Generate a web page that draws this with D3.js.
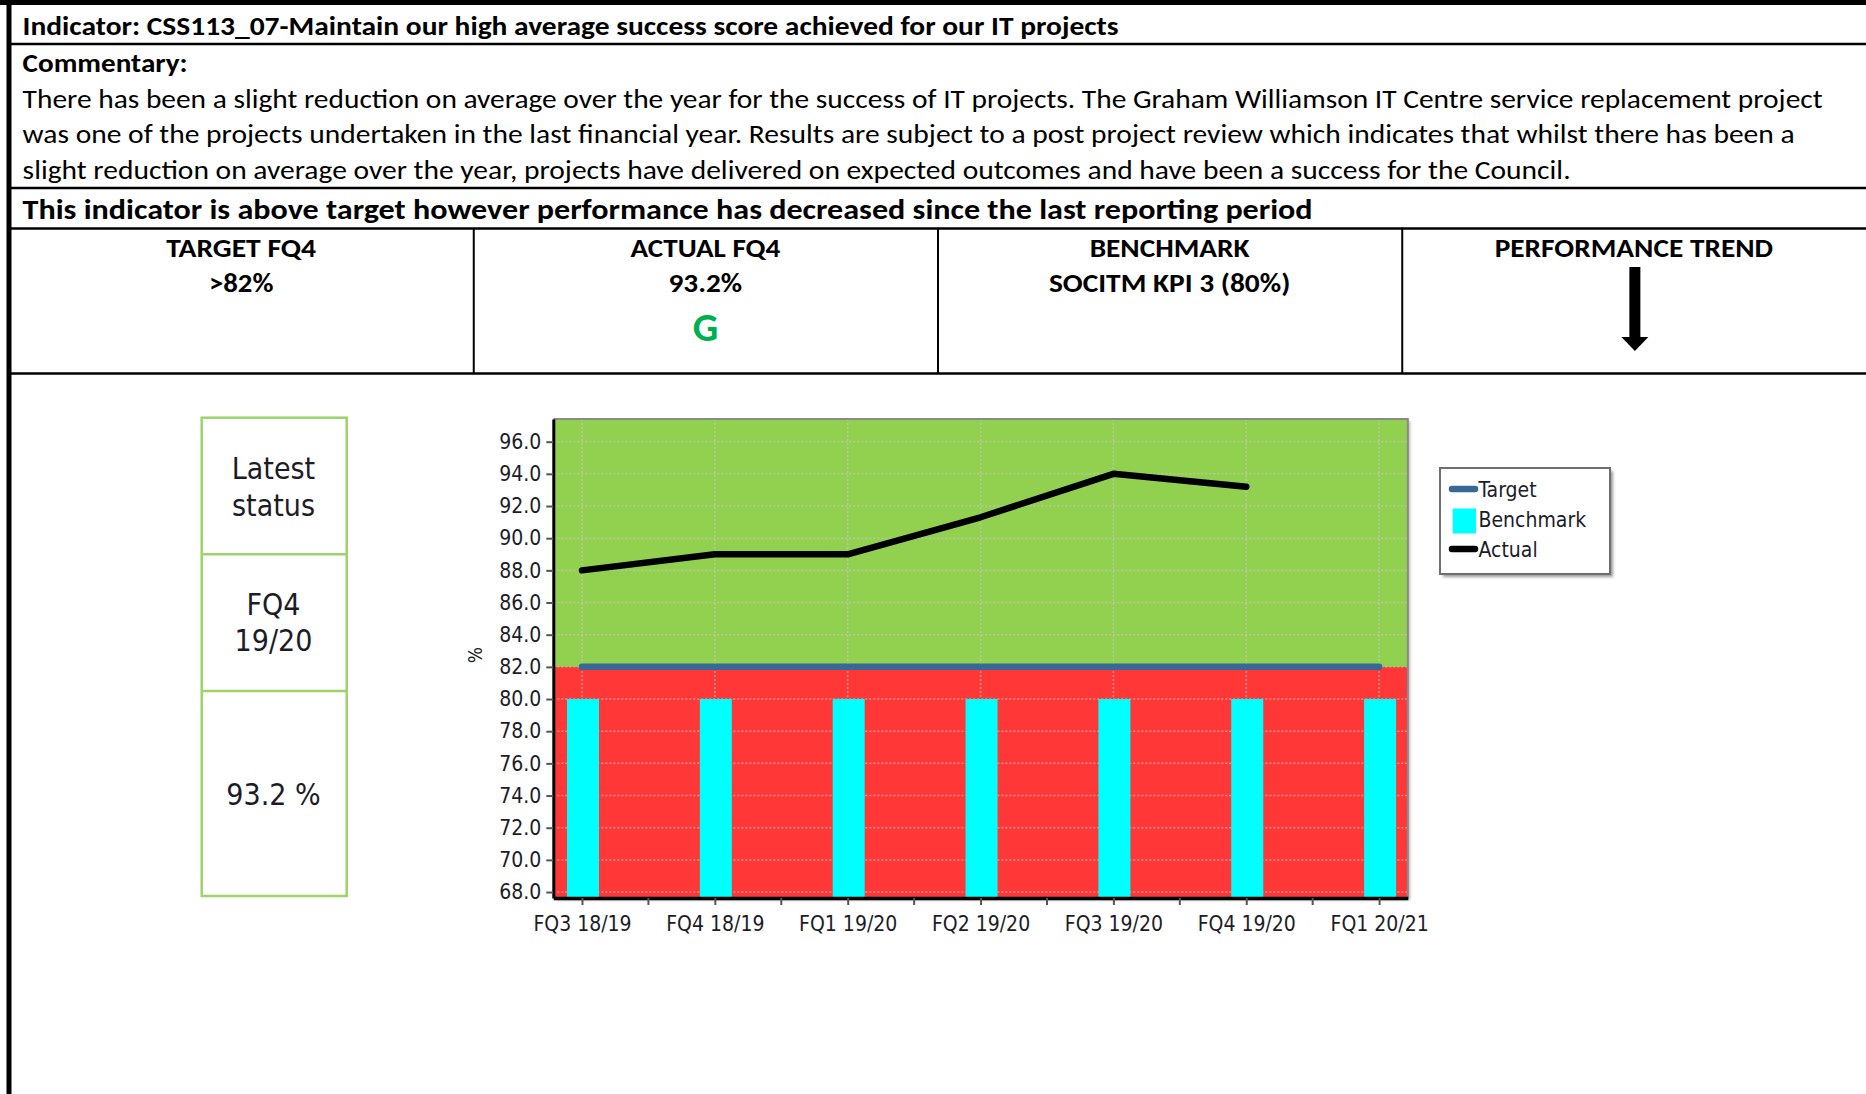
<!DOCTYPE html>
<html lang="en">

<head>
    <meta charset="UTF-8">
    <title>CSS113_07 - IT project success score</title>
    <script src="https://cdnjs.cloudflare.com/ajax/libs/d3/7.8.5/d3.min.js"></script>
    <style>
        body {
            margin: 0;
            background: #fff;
        }

        svg#main {
            display: block;
        }

        .doc text {
            font-family: Carlito, Lato, 'Open Sans', sans-serif;
            fill: #000;
        }

        .chart text {
            font-family: 'DejaVu Sans Condensed', 'DejaVu Sans', sans-serif;
            font-stretch: condensed;
            fill: #1c1c28;
        }

        .grid line {
            stroke: rgba(200, 200, 200, 0.65);
            stroke-width: 1.5px;
            stroke-dasharray: 2, 2;
        }
    </style>
</head>

<body>
    <svg id="main" width="1866" height="1094"></svg>
    <script>
        "use strict";

        const categories = ["FQ3 18/19", "FQ4 18/19", "FQ1 19/20", "FQ2 19/20", "FQ3 19/20", "FQ4 19/20", "FQ1 20/21"];
        const actualValues = [88.0, 89.0, 89.0, 91.3, 94.0, 93.2, null];
        const targetValues = [82, 82, 82, 82, 82, 82, 82];
        const benchmarkValues = [80, 80, 80, 80, 80, 80, 80];
        const yTickValues = [68, 70, 72, 74, 76, 78, 80, 82, 84, 86, 88, 90, 92, 94, 96];
        const legendLabels = ["Target", "Benchmark", "Actual"];

        const titleText = "Indicator: CSS113_07-Maintain our high average success score achieved for our IT projects";
        const commentaryHeading = "Commentary:";
        const commentaryLines = [
            "There has been a slight reduction on average over the year for the success of IT projects. The Graham Williamson IT Centre service replacement project",
            "was one of the projects undertaken in the last financial year. Results are subject to a post project review which indicates that whilst there has been a",
            "slight reduction on average over the year, projects have delivered on expected outcomes and have been a success for the Council."
        ];
        const statementText = "This indicator is above target however performance has decreased since the last reporting period";
        const kpiHeadings = ["TARGET FQ4", "ACTUAL FQ4", "BENCHMARK", "PERFORMANCE TREND"];
        const kpiValues = [">82%", "93.2%", "SOCITM KPI 3 (80%)", ""];
        const ragStatus = "G";
        const latestStatus = [["Latest", "status"], ["FQ4", "19/20"], ["93.2 %"]];

        !function () {
            const svg = d3.select("svg#main");
            const doc = svg.append("g").attr("class", "doc");

            function fitText(sel, width) {
                return sel.attr("textLength", width).attr("lengthAdjust", "spacingAndGlyphs");
            }

            // ---- document table ----

            const rules = [44, 188, 228.5, 373.5];
            doc.selectAll("line.rule")
                .data(rules)
                .enter().append("line")
                .attr("x1", 9).attr("x2", 1866)
                .attr("y1", d => d).attr("y2", d => d)
                .attr("stroke", "#000").attr("stroke-width", 2.5);

            doc.append("line").attr("x1", 0).attr("x2", 1866).attr("y1", 2.5).attr("y2", 2.5)
                .attr("stroke", "#000").attr("stroke-width", 5);
            doc.append("line").attr("x1", 9).attr("x2", 9).attr("y1", 0).attr("y2", 1094)
                .attr("stroke", "#000").attr("stroke-width", 5);

            const textLines = [
                { text: titleText, y: 34.5, size: 26, bold: true, width: 1096 },
                { text: commentaryHeading, y: 71.5, size: 26, bold: true, width: 165 },
                { text: commentaryLines[0], y: 107.5, size: 26, bold: false, width: 1800 },
                { text: commentaryLines[1], y: 143, size: 26, bold: false, width: 1772 },
                { text: commentaryLines[2], y: 178.5, size: 26, bold: false, width: 1548 },
                { text: statementText, y: 218.5, size: 28.5, bold: true, width: 1290 }
            ];

            textLines.forEach(l => {
                fitText(doc.append("text")
                    .attr("x", 22.6).attr("y", l.y)
                    .attr("font-size", l.size)
                    .attr("font-weight", l.bold ? "bold" : "normal")
                    .text(l.text), l.width);
            });

            const colX = d3.scaleBand().domain(d3.range(kpiHeadings.length)).range([9, 1866]);
            const colWidths = { head: [150, 150, 160, 278.5], value: [64.5, 73.7, 241.5, 0] };

            doc.selectAll("line.col")
                .data(d3.range(1, kpiHeadings.length))
                .enter().append("line")
                .attr("x1", i => colX(i) + 0.5).attr("x2", i => colX(i) + 0.5)
                .attr("y1", 228.5).attr("y2", 373.5)
                .attr("stroke", "#000").attr("stroke-width", 2);

            kpiHeadings.forEach((h, i) => {
                const cx = colX(i) + colX.bandwidth() / 2;
                fitText(doc.append("text")
                    .attr("x", cx).attr("y", 256.5)
                    .attr("text-anchor", "middle")
                    .attr("font-size", 26).attr("font-weight", "bold")
                    .text(h), colWidths.head[i]);
                if (kpiValues[i]) {
                    fitText(doc.append("text")
                        .attr("x", cx).attr("y", 291.5)
                        .attr("text-anchor", "middle")
                        .attr("font-size", 26).attr("font-weight", "bold")
                        .text(kpiValues[i]), colWidths.value[i]);
                }
            });

            const actualCx = colX(1) + colX.bandwidth() / 2;
            doc.append("text")
                .attr("x", actualCx).attr("y", 341)
                .attr("text-anchor", "middle")
                .attr("font-size", 40).attr("font-weight", "bold")
                .style("fill", "#00b050")
                .text(ragStatus);

            // trend arrow (down)
            const trendCx = colX(3) + colX.bandwidth() / 2 + 1;
            doc.append("path")
                .attr("d", d3.line()([
                    [trendCx - 5.5, 267], [trendCx + 5.5, 267], [trendCx + 5.5, 337],
                    [trendCx + 13.5, 337], [trendCx, 351], [trendCx - 13.5, 337],
                    [trendCx - 5.5, 337]
                ]) + "Z")
                .attr("fill", "#000");

            // ---- latest status box ----

            const box = svg.append("g").attr("class", "chart");
            const boxRows = [417.7, 554.3, 691, 896];
            box.append("rect")
                .attr("x", 201.7).attr("y", boxRows[0])
                .attr("width", 145).attr("height", boxRows[3] - boxRows[0])
                .attr("fill", "none").attr("stroke", "#9ed369").attr("stroke-width", 2.5);
            box.selectAll("line.div")
                .data(boxRows.slice(1, 3))
                .enter().append("line")
                .attr("x1", 201.7).attr("x2", 346.7)
                .attr("y1", d => d).attr("y2", d => d)
                .attr("stroke", "#9ed369").attr("stroke-width", 2.5);

            const boxBaselines = [[479, 515.5], [614.5, 651], [804.5]];
            latestStatus.forEach((lines, i) => {
                lines.forEach((t, j) => {
                    box.append("text")
                        .attr("x", 273.5).attr("y", boxBaselines[i][j])
                        .attr("text-anchor", "middle")
                        .attr("font-size", 30)
                        .text(t);
                });
            });

            // ---- chart ----

            const plot = { left: 553.3, right: 1407.8, top: 419, bottom: 898 };

            const x = d3.scalePoint()
                .domain(categories)
                .range([plot.left, plot.right])
                .padding(0.216);

            const y = d3.scaleLinear()
                .domain([67.63, 97.41])
                .range([plot.bottom, plot.top]);

            const chart = svg.append("g").attr("class", "chart");

            const defs = svg.append("defs");
            defs.append("filter").attr("id", "shadow")
                .attr("x", "-10%").attr("y", "-10%").attr("width", "130%").attr("height", "130%")
                .append("feGaussianBlur").attr("stdDeviation", 1.6);

            // frame shadow
            chart.append("rect")
                .attr("x", plot.left + 2).attr("y", plot.top + 2)
                .attr("width", plot.right - plot.left).attr("height", plot.bottom - plot.top)
                .attr("fill", "rgba(0,0,0,0.35)")
                .attr("filter", "url(#shadow)");

            // performance bands
            chart.append("rect")
                .attr("x", plot.left).attr("y", plot.top)
                .attr("width", plot.right - plot.left).attr("height", y(targetValues[0]) - plot.top)
                .attr("fill", "#92d050");
            chart.append("rect")
                .attr("x", plot.left).attr("y", y(targetValues[0]))
                .attr("width", plot.right - plot.left).attr("height", plot.bottom - y(targetValues[0]))
                .attr("fill", "#ff3737");

            const grid = chart.append("g").attr("class", "grid");
            grid.selectAll("line.h")
                .data(yTickValues)
                .enter().append("line")
                .attr("x1", plot.left).attr("x2", plot.right)
                .attr("y1", d => y(d)).attr("y2", d => y(d));
            grid.selectAll("line.v")
                .data(categories)
                .enter().append("line")
                .attr("x1", d => x(d)).attr("x2", d => x(d))
                .attr("y1", plot.top).attr("y2", plot.bottom);

            // benchmark bars
            const barWidth = 32;
            chart.selectAll("rect.bar")
                .data(benchmarkValues)
                .enter().append("rect")
                .attr("class", "bar")
                .attr("x", (d, i) => x(categories[i]) - barWidth / 2 + 1)
                .attr("y", d => y(d))
                .attr("width", barWidth)
                .attr("height", d => plot.bottom - y(d))
                .attr("fill", "#00ffff");

            // target and actual lines
            const lineGen = d3.line()
                .defined(d => d.v !== null)
                .x(d => x(d.c))
                .y(d => y(d.v));

            chart.append("path")
                .datum(categories.map((c, i) => ({ c: c, v: targetValues[i] })))
                .attr("d", lineGen)
                .attr("fill", "none")
                .attr("stroke", "#386896")
                .attr("stroke-width", 6.5)
                .attr("stroke-linecap", "round");

            chart.append("path")
                .datum(categories.map((c, i) => ({ c: c, v: actualValues[i] })))
                .attr("d", lineGen)
                .attr("fill", "none")
                .attr("stroke", "#000")
                .attr("stroke-width", 6.5)
                .attr("stroke-linecap", "round")
                .attr("stroke-linejoin", "round");

            // frame top/right
            chart.append("path")
                .attr("d", `M${plot.left},${plot.top}H${plot.right}V${plot.bottom}`)
                .attr("fill", "none")
                .attr("stroke", "#8a8a8a")
                .attr("stroke-width", 2);

            // axes
            const yAxis = chart.append("g")
                .attr("transform", `translate(${plot.left},0)`)
                .call(d3.axisLeft(y)
                    .tickValues(yTickValues)
                    .tickFormat(d3.format(".1f"))
                    .tickSize(7)
                    .tickSizeOuter(0)
                    .tickPadding(5));
            yAxis.select(".domain").attr("stroke", "#000").attr("stroke-width", 3);
            yAxis.selectAll(".tick line").attr("stroke", "#555").attr("stroke-width", 2);
            yAxis.selectAll(".tick text").attr("font-size", 21).attr("fill", "#161622");

            const xAxis = chart.append("g")
                .attr("transform", `translate(0,${plot.bottom})`)
                .call(d3.axisBottom(x)
                    .tickSize(7)
                    .tickSizeOuter(0)
                    .tickPadding(10));
            xAxis.select(".domain").attr("stroke", "#000").attr("stroke-width", 3.5);
            xAxis.selectAll(".tick line").attr("stroke", "#555").attr("stroke-width", 2);
            xAxis.selectAll(".tick text").attr("font-size", 21).attr("fill", "#161622").attr("y", 18);

            // minor ticks between categories
            xAxis.selectAll("line.minor")
                .data(categories.slice(1))
                .enter().append("line")
                .attr("x1", (d, i) => (x(d) + x(categories[i])) / 2)
                .attr("x2", (d, i) => (x(d) + x(categories[i])) / 2)
                .attr("y1", 0).attr("y2", 7)
                .attr("stroke", "#555").attr("stroke-width", 2);

            chart.append("text")
                .attr("transform", "translate(482,655) rotate(-90)")
                .attr("text-anchor", "middle")
                .attr("font-size", 19)
                .text("%");

            // legend
            const legend = chart.append("g").attr("transform", "translate(1440,468)");
            legend.append("rect")
                .attr("x", 3).attr("y", 3).attr("width", 170).attr("height", 106)
                .attr("fill", "rgba(0,0,0,0.4)")
                .attr("filter", "url(#shadow)");
            legend.append("rect")
                .attr("width", 170).attr("height", 106)
                .attr("fill", "#fff")
                .attr("stroke", "#6e6e6e")
                .attr("stroke-width", 2);

            const legendItems = legend.selectAll("g.item")
                .data(legendLabels)
                .enter().append("g")
                .attr("transform", (d, i) => `translate(0,${21 + i * 30})`);

            legendItems.each(function (d, i) {
                const g = d3.select(this);
                if (i === 1) {
                    g.append("rect")
                        .attr("x", 12.7).attr("y", -10.5)
                        .attr("width", 23.3).attr("height", 25)
                        .attr("fill", "#00ffff");
                } else {
                    g.append("line")
                        .attr("x1", 12).attr("x2", 35)
                        .attr("y1", 0).attr("y2", 0)
                        .attr("stroke", i === 0 ? "#386896" : "#000")
                        .attr("stroke-width", 6.5)
                        .attr("stroke-linecap", "round");
                }
                g.append("text")
                    .attr("x", 38.5).attr("y", 7.5)
                    .attr("font-size", 21)
                    .text(d);
            });
        }();
    </script>
</body>

</html>
